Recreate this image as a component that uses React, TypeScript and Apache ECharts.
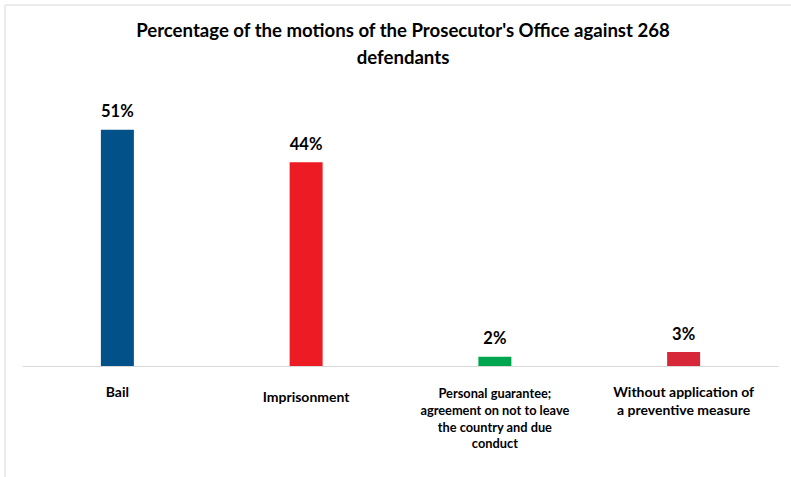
import React, { useEffect, useRef } from "react";
import * as echarts from "echarts";

const categories = [
  "Bail",
  "Imprisonment",
  "Personal guarantee;\nagreement on not to leave\nthe country and due\nconduct",
  "Without application of\na preventive measure",
];
const values = [51, 44, 2, 3];
const barColors = ["#025189", "#ED1C24", "#00A64F", "#D62839"];
const titleText = "Percentage of the motions of the Prosecutor's Office against 268\ndefendants";

export default function App() {
  const ref = useRef<HTMLDivElement>(null);
  useEffect(() => {
    if (!ref.current) return;
    const chart = echarts.init(ref.current, undefined, { renderer: "svg" });
    const labelStyles = [
      { fontSize: 14, padding: [0, 0, 0, 0], lineHeight: 18 },
      { fontSize: 14, padding: [5, 0, 0, 0], lineHeight: 18 },
      { fontSize: 12.8, padding: [3, 0, 0, 0], lineHeight: 16.7 },
      { fontSize: 14, padding: [0, 0, 0, 0], lineHeight: 18 },
    ];
    chart.setOption({
      animation: false,
      backgroundColor: "#ffffff",
      title: {
        text: titleText,
        left: 398,
        top: 11,
        textAlign: "center",
        textStyle: {
          fontFamily: "Lato",
          fontWeight: "bold",
          fontSize: 18.6,
          lineHeight: 27,
          color: "#000000",
        },
      },
      graphic: [
        {
          type: "rect",
          shape: { x: 5, y: 5, width: 820, height: 520 },
          style: { fill: "none", stroke: "#d9d9d9", lineWidth: 1 },
          silent: true,
        },
      ],
      grid: { left: 23, right: 13, top: 88, bottom: 111, containLabel: false },
      xAxis: {
        type: "category",
        data: categories.map((c, i) => ({ value: c, textStyle: labelStyles[i] })),
        axisLine: { show: true, lineStyle: { color: "#d9d9d9", width: 1 } },
        axisTick: { show: false },
        axisLabel: {
          interval: 0,
          margin: 16,
          color: "#000000",
          fontFamily: "Lato",
          fontWeight: "bold",
          align: "center",
          verticalAlign: "top",
        },
      },
      yAxis: {
        type: "value",
        min: 0,
        max: 60,
        show: false,
        splitLine: { show: false },
      },
      series: [
        {
          type: "bar",
          barWidth: 33,
          data: values.map((v, i) => ({ value: v, itemStyle: { color: barColors[i] } })),
          label: {
            show: true,
            position: "top",
            distance: 10,
            formatter: "{c}%",
            fontFamily: "Lato",
            fontWeight: "bold",
            fontSize: 16.5,
            color: "#000000",
          },
        },
      ],
    });
    return () => chart.dispose();
  }, []);
  return (
    <div
      ref={ref}
      style={{ position: "fixed", left: 0, top: 0, width: 791, height: 477 }}
    />
  );
}
